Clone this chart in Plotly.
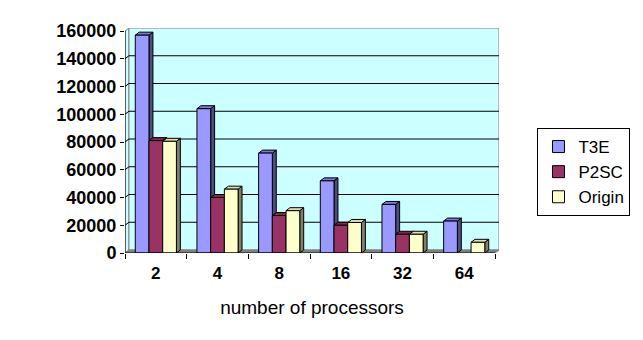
import plotly.graph_objects as go

# ---- data ----
categories = ["2", "4", "8", "16", "32", "64"]
t3e = [157000, 104000, 72000, 52000, 35000, 23000]
p2sc = [81000, 40000, 27000, 20000, 13500, None]
origin = [80500, 46000, 30500, 22000, 13500, 7700]
series_names = ["T3E", "P2SC", "Origin"]
y_ticks = [0, 20000, 40000, 60000, 80000, 100000, 120000, 140000, 160000]

# ---- styling ----
front_cols = ["#9999ff", "#993366", "#ffffcc"]
top_cols = ["#7a7ad6", "#80294f", "#e0e0b0"]
side_cols = ["#4d4d80", "#4d1a33", "#808066"]
FONT = "Liberation Sans, Arial, sans-serif"

L, R, T, B = 125, 139, 28, 87
W, H = 643, 340
plot_w = W - L - R
plot_h = H - T - B
YMAX = y_ticks[-1]
DXp, DYp = 4, 3
ncat = len(categories)
cat_px = (plot_w - DXp) / ncat
DX = DXp / cat_px
DY = DYp * YMAX / (plot_h - DYp)
BARGAP = 0.333
bw = (1 - BARGAP) / 3

xs = list(range(ncat))
all_series = [t3e, p2sc, origin]

fig = go.Figure()
for i, (name, vals) in enumerate(zip(series_names, all_series)):
    fig.add_trace(go.Bar(
        x=xs, y=vals, name=name, legendgroup=name,
        marker=dict(color=front_cols[i], line=dict(color="black", width=1)),
    ))

shapes = []
x0, x1 = -0.5, ncat - 0.5
# left wall
shapes.append(dict(type="path", xref="x", yref="y", layer="below",
                   path=f"M{x0},0 L{x0+DX},{DY} L{x0+DX},{YMAX+DY} L{x0},{YMAX} Z",
                   fillcolor="#ccffff", line=dict(color="#808080", width=1)))
# back wall
shapes.append(dict(type="rect", xref="x", yref="y", layer="below",
                   x0=x0+DX, x1=x1+DX, y0=DY, y1=YMAX+DY,
                   fillcolor="#ccffff", line=dict(color="#808080", width=1)))
# gridlines
for v in y_ticks[1:-1]:
    shapes.append(dict(type="path", xref="x", yref="y", layer="below",
                       path=f"M{x0},{v} L{x0+DX},{v+DY} L{x1+DX},{v+DY}",
                       line=dict(color="black", width=1)))
# floor
shapes.append(dict(type="path", xref="x", yref="y", layer="below",
                   path=f"M{x0},0 L{x0+DX},{DY} L{x1+DX},{DY} L{x1},0 Z",
                   fillcolor="#808080", line=dict(color="#808080", width=1)))
# 3D faces of bars
for c in xs:
    for i, vals in enumerate(all_series):
        v = vals[c]
        if not v:
            continue
        cx = c + (i - 1) * bw
        lft, rgt = cx - bw / 2, cx + bw / 2
        shapes.append(dict(type="path", xref="x", yref="y", layer="below",
                           path=f"M{rgt},0 L{rgt+DX},{DY} L{rgt+DX},{v+DY} L{rgt},{v} Z",
                           fillcolor=side_cols[i], line=dict(color="black", width=1)))
        shapes.append(dict(type="path", xref="x", yref="y", layer="below",
                           path=f"M{lft},{v} L{lft+DX},{v+DY} L{rgt+DX},{v+DY} L{rgt},{v} Z",
                           fillcolor=top_cols[i], line=dict(color="black", width=1)))
# front axis lines
shapes.append(dict(type="line", xref="x", yref="y", layer="above",
                   x0=x0, x1=x1, y0=0, y1=0, line=dict(color="black", width=1)))
shapes.append(dict(type="line", xref="x", yref="y", layer="above",
                   x0=x0, x1=x0, y0=0, y1=YMAX, line=dict(color="black", width=1)))

fig.update_layout(
    width=W, height=H,
    margin=dict(l=L, r=R, t=T, b=B, pad=0),
    paper_bgcolor="white", plot_bgcolor="white",
    barmode="group", bargap=BARGAP, bargroupgap=0,
    shapes=shapes,
    font=dict(family=FONT, color="black"),
    showlegend=True,
    legend=dict(x=(543 - L) / plot_w, y=(H - B - 128) / plot_h,
                xanchor="left", yanchor="top",
                bordercolor="black", borderwidth=1, bgcolor="white",
                font=dict(family=FONT, size=17, color="black"),
                tracegroupgap=5, traceorder="normal"),
)
fig.update_xaxes(
    range=[x0, x1 + DX], tickvals=xs, ticktext=categories,
    ticks="", showgrid=False, zeroline=False, showline=False,
    tickfont=dict(family=FONT, size=17, weight="bold", color="black"),
    ticklabelstandoff=8,
    minor=dict(tick0=-0.5, dtick=1, ticks="outside", ticklen=5, tickcolor="black", showgrid=False),
    title=dict(text="number of processors", font=dict(family=FONT, size=19, color="black"), standoff=18),
)
fig.update_yaxes(
    range=[0, YMAX + DY], tickvals=y_ticks, ticktext=[str(v) for v in y_ticks],
    ticks="outside", ticklen=4, tickcolor="black",
    showgrid=False, zeroline=False, showline=False,
    tickfont=dict(family=FONT, size=18, weight="bold", color="black"),
)

fig.write_html("out.html")
